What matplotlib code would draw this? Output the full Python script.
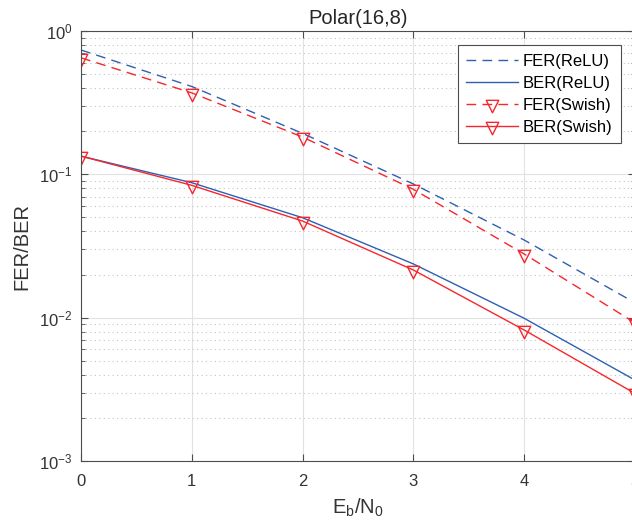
import matplotlib
matplotlib.use("Agg")
import matplotlib.pyplot as plt
import numpy as np
from matplotlib.ticker import LogLocator, NullFormatter
from matplotlib.path import Path

plt.rcParams['font.family'] = ['Liberation Sans', 'DejaVu Sans']
plt.rcParams['mathtext.default'] = 'regular'

ebn0 = [0, 1, 2, 3, 4, 5]
fer_relu = [0.737, 0.41, 0.193, 0.0856, 0.0348, 0.0127]
ber_relu = [0.134, 0.0874, 0.0498, 0.0237, 0.0099, 0.00367]
fer_swish = [0.65, 0.37, 0.182, 0.0786, 0.0278, 0.0092]
ber_swish = [0.134, 0.0838, 0.0472, 0.0215, 0.0082, 0.00296]

blue = '#2f5fb3'
red = '#f5262d'

# downward triangle centred on its centroid (MATLAB style)
tri = Path([(-1, 2 / 3), (1, 2 / 3), (0, -4 / 3), (-1, 2 / 3)],
           [Path.MOVETO, Path.LINETO, Path.LINETO, Path.CLOSEPOLY])

fig = plt.figure(figsize=(6.32, 5.26), dpi=100)
W, H = 632, 526
left, right, top, bottom = 81, 635, 31, 461
ax = fig.add_axes([left / W, 1 - bottom / H, (right - left) / W, (bottom - top) / H])

dash = (0, (7, 4.5))
ax.semilogy(ebn0, fer_relu, linestyle=dash, color=blue, lw=1.0, label='FER(ReLU)')
ax.semilogy(ebn0, ber_relu, linestyle='-', color=blue, lw=1.0, label='BER(ReLU)')
ax.semilogy(ebn0, fer_swish, linestyle=dash, color=red, lw=1.0, marker=tri,
            markersize=12, markerfacecolor='none', markeredgecolor=red, markeredgewidth=1.0,
            label='FER(Swish)')
ax.semilogy(ebn0, ber_swish, linestyle='-', color=red, lw=1.0, marker=tri,
            markersize=12, markerfacecolor='none', markeredgecolor=red, markeredgewidth=1.0,
            label='BER(Swish)')

ax.set_xlim(0, 5)
ax.set_ylim(1e-3, 1)
ax.set_xticks(ebn0)
ax.yaxis.set_major_locator(LogLocator(base=10, numticks=10))
ax.yaxis.set_minor_locator(LogLocator(base=10, subs=np.arange(2, 10), numticks=20))
ax.yaxis.set_minor_formatter(NullFormatter())

ax.grid(True, which='major', color='#e2e2e2', linestyle='-', linewidth=0.8)
ax.grid(True, which='minor', axis='y', color='#c4c4c4', linestyle=(0, (1, 3)), linewidth=0.8)
ax.set_axisbelow(True)

for s in ax.spines.values():
    s.set_color('#4d4d4d')
    s.set_linewidth(0.8)
ax.tick_params(which='both', direction='in', colors='#4d4d4d', labelcolor='#333333',
               labelsize=12, top=True, right=True)
ax.tick_params(which='major', length=5)
ax.tick_params(which='minor', length=3)
ax.tick_params(axis='x', pad=9)
ax.tick_params(axis='y', pad=6)

ax.set_title('Polar(16,8)', fontsize=14.5, color='#262626', pad=5)
ax.set_xlabel('$E_b/N_0$', fontsize=14.5, color='#333333', labelpad=6)
ax.set_ylabel('FER/BER', fontsize=14.5, color='#333333', labelpad=6)

leg = ax.legend(loc='upper right', bbox_to_anchor=(0.974, 0.967), borderaxespad=0,
                fontsize=12, frameon=True, fancybox=False, edgecolor='#4d4d4d',
                framealpha=1, handlelength=3.1, borderpad=0.5, labelspacing=0.42,
                handletextpad=0.3)
leg.get_frame().set_linewidth(0.8)

fig.savefig('out.png', dpi=100)
